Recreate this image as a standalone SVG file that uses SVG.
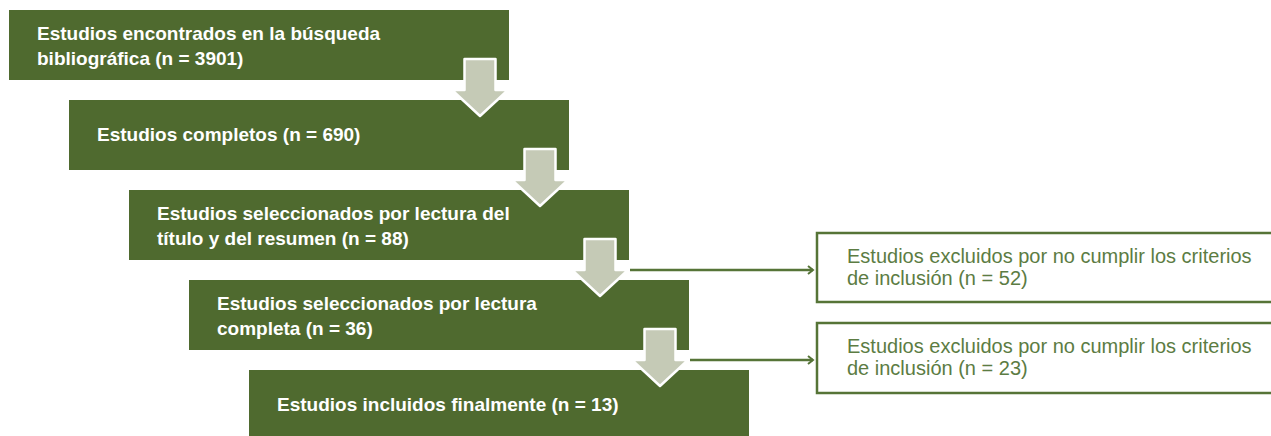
<svg xmlns="http://www.w3.org/2000/svg" width="1271" height="436" viewBox="0 0 1271 436">
<style>
.box{fill:#4f6a2f}
.t{font-family:"Liberation Sans",Arial,sans-serif;font-size:19px;font-weight:bold;fill:#ffffff}
.ex{fill:#ffffff;stroke:#567437;stroke-width:2.5}
.et{font-family:"Liberation Sans",Arial,sans-serif;font-size:20px;fill:#5c7c43}
.blk{fill:#c5cab6;stroke:#ffffff;stroke-width:2.5;stroke-linejoin:round}
.ln{stroke:#567437;stroke-width:2.5;fill:none}
</style>
<defs>
<marker id="ah" markerWidth="10" markerHeight="10" refX="7" refY="5" orient="auto" markerUnits="userSpaceOnUse">
<path d="M2,1 L7,5 L2,9" fill="none" stroke="#567437" stroke-width="2"/>
</marker>
</defs>
<rect width="1271" height="436" fill="#ffffff"/>
<g id="node1">
<rect class="box" x="9" y="10" width="500" height="70"/>
<text class="t" x="37" y="39.5">Estudios encontrados en la búsqueda</text>
<text class="t" x="37" y="65">bibliográfica (n = 3901)</text>
</g>
<g id="node2">
<rect class="box" x="69" y="100" width="500" height="70"/>
<text class="t" x="97" y="141">Estudios completos (n = 690)</text>
</g>
<g id="node3">
<rect class="box" x="129" y="190" width="500" height="70"/>
<text class="t" x="157" y="219.5">Estudios seleccionados por lectura del</text>
<text class="t" x="157" y="245">título y del resumen (n = 88)</text>
</g>
<g id="node4">
<rect class="box" x="189" y="280" width="500" height="70"/>
<text class="t" x="217" y="309.5">Estudios seleccionados por lectura</text>
<text class="t" x="217" y="335">completa (n = 36)</text>
</g>
<g id="node5">
<rect class="box" x="249" y="370" width="500" height="70"/>
<text class="t" x="277" y="411">Estudios incluidos finalmente (n = 13)</text>
</g>
<g id="excl1">
<rect class="ex" x="817" y="233" width="470" height="69"/>
<text class="et" x="847" y="263">Estudios excluidos por no cumplir los criterios</text>
<text class="et" x="847" y="284.5">de inclusión (n = 52)</text>
</g>
<g id="excl2">
<rect class="ex" x="817" y="323" width="470" height="70"/>
<text class="et" x="847" y="353">Estudios excluidos por no cumplir los criterios</text>
<text class="et" x="847" y="374.5">de inclusión (n = 23)</text>
</g>
<g id="connectors">
<path class="blk" d="M464.5,59 L495.5,59 L495.5,90 L508,90 L480,116 L452,90 L464.5,90 Z"/>
<path class="blk" d="M524.5,149 L555.5,149 L555.5,180 L568,180 L540,206 L512,180 L524.5,180 Z"/>
<path class="blk" d="M584.5,239 L615.5,239 L615.5,270 L628,270 L600,296 L572,270 L584.5,270 Z"/>
<path class="blk" d="M644.5,329 L675.5,329 L675.5,360 L688,360 L660,386 L632,360 L644.5,360 Z"/>
<line class="ln" x1="630" y1="270" x2="813" y2="270" marker-end="url(#ah)"/>
<line class="ln" x1="690" y1="360" x2="813" y2="360" marker-end="url(#ah)"/>
</g>
</svg>
